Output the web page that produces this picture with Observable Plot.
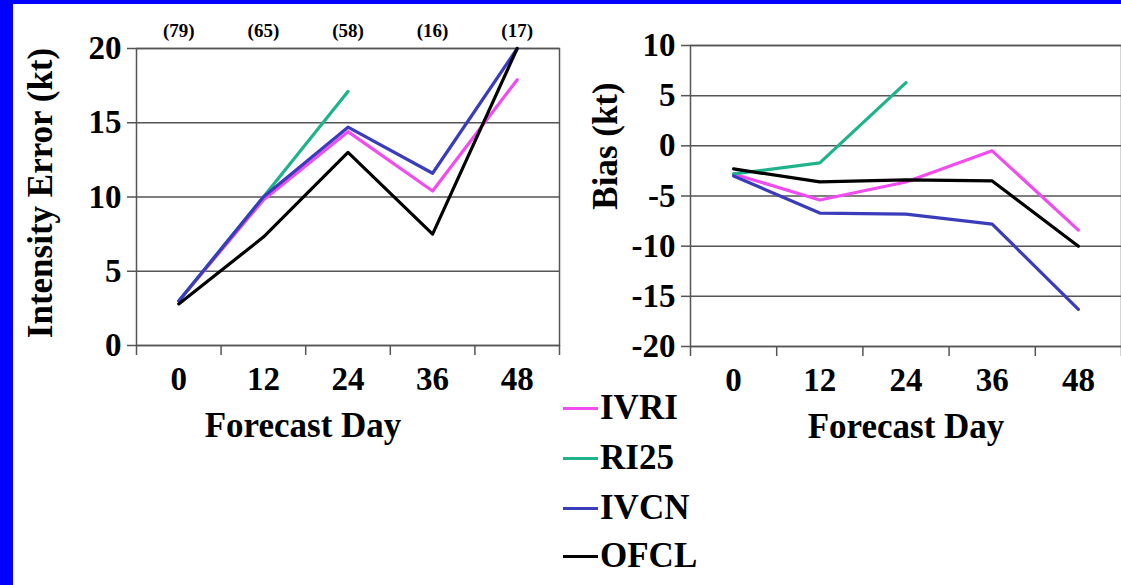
<!DOCTYPE html>
<html><head><meta charset="utf-8">
<script src="https://cdn.jsdelivr.net/npm/d3@7"></script>
<script src="https://cdn.jsdelivr.net/npm/@observablehq/plot@0.6"></script>
<style>
html,body{margin:0;padding:0;background:#fff;}
body{width:1121px;height:585px;position:relative;overflow:hidden;font-family:"Liberation Serif",Tinos,"Times New Roman","DejaVu Serif","Noto Serif",serif;font-weight:bold;}
#blueL{position:absolute;left:0;top:0;width:13px;height:585px;background:#0000ff;z-index:5;}
#blueT{position:absolute;left:0;top:0;width:1121px;height:4px;background:#0000ff;z-index:5;}
#c1{position:absolute;left:0;top:0;}
#c2{position:absolute;left:560px;top:0;}
#legend{position:absolute;left:563px;top:0;}
.item{position:absolute;left:0;height:36px;display:flex;align-items:center;white-space:nowrap;}
.sw{display:inline-block;width:35px;height:3px;margin-right:2px;}
.lab{font-size:35px;line-height:36px;color:#000;}
svg text{font-family:"Liberation Serif",Tinos,"Times New Roman","DejaVu Serif","Noto Serif",serif !important;font-weight:bold;}
</style></head><body>
<div id="blueL"></div><div id="blueT"></div>
<div id="c1"></div><div id="c2"></div><div id="legend"></div>
<script>
const forecastDays = ["0","12","24","36","48"];
const caseCounts = [79, 65, 58, 16, 17];
const seriesNames = ["IVRI","RI25","IVCN","OFCL"];
const seriesColors = ["#f04cf0","#1fb38c","#3a3cbc","#000000"];

const errorIVRI = [3.0, 9.8, 14.4, 10.4, 17.9];
const errorRI25 = [3.0, 10.0, 17.1];
const errorIVCN = [3.0, 10.0, 14.7, 11.6, 20.0];
const errorOFCL = [2.8, 7.3, 13.0, 7.5, 20.0];

const biasIVRI = [-2.8, -5.4, -3.6, -0.5, -8.4];
const biasRI25 = [-2.8, -1.7, 6.3];
const biasIVCN = [-3.0, -6.7, -6.8, -7.8, -16.3];
const biasOFCL = [-2.3, -3.6, -3.4, -3.5, -10.0];

const errorTicks = [0, 5, 10, 15, 20];
const biasTicks = [-20, -15, -10, -5, 0, 5, 10];

function toRows(lists) {
  const rows = [];
  lists.forEach((vals, s) => vals.forEach((v, i) => rows.push({series: seriesNames[s], i, value: v})));
  return rows;
}

const errorRows = toRows([errorIVRI, errorRI25, errorIVCN, errorOFCL]);
const biasRows = toRows([biasIVRI, biasRI25, biasIVCN, biasOFCL]);

const boundaries = d3.range(forecastDays.length + 1).map(k => k - 0.5);
const centers = d3.range(forecastDays.length);
const gridColor = "#555555";
const serifStack = '"Liberation Serif", Tinos, "Times New Roman", "DejaVu Serif", serif';

function makeChart({rows, yDomain, yTicks, width, height, mL, mR, mT, mB, yTitle, yTitleDx, yTitleDy, xTitleDx, counts}) {
  const marks = [
    Plot.gridY(yTicks, {stroke: gridColor, strokeOpacity: 1, strokeWidth: 1.5}),
    Plot.frame({stroke: gridColor, strokeWidth: 1.5}),
    Plot.axisY(yTicks, {tickSize: 9, tickPadding: 6, fontSize: 33, stroke: gridColor, strokeWidth: 1.5, fill: "#000", tickFormat: d => String(d), label: null}),
    Plot.axisX(boundaries, {tickSize: 10, tickFormat: () => "", stroke: gridColor, strokeWidth: 1.5, label: null}),
    Plot.axisX(centers, {tickSize: 0, tickPadding: 21, fontSize: 33, fill: "#000", tickFormat: i => forecastDays[i], label: null}),
    Plot.line(rows, {x: "i", y: "value", z: "series", stroke: "series", strokeWidth: 3.2}),
    Plot.text([yTitle], {frameAnchor: "left", textAnchor: "middle", lineAnchor: "middle", rotate: -90, dx: yTitleDx, dy: yTitleDy, fontSize: 35, fill: "#000"}),
    Plot.text(["Forecast Day"], {frameAnchor: "bottom", textAnchor: "middle", lineAnchor: "middle", dx: xTitleDx, dy: 80, fontSize: 35, fill: "#000"})
  ];
  if (counts) {
    marks.push(Plot.text(counts, {x: (d, i) => i, frameAnchor: "top", lineAnchor: "middle", dy: -18, text: d => `(${d})`, fontSize: 19, fill: "#000"}));
  }
  return Plot.plot({
    width, height,
    marginLeft: mL, marginRight: mR, marginTop: mT, marginBottom: mB,
    x: {domain: [-0.5, forecastDays.length - 0.5]},
    y: {domain: yDomain},
    color: {domain: seriesNames, range: seriesColors},
    style: {fontFamily: serifStack, fontWeight: "bold", background: "transparent", color: "#000", overflow: "visible"},
    marks
  });
}

document.getElementById("c1").appendChild(makeChart({
  rows: errorRows, yDomain: [0, 20], yTicks: errorTicks,
  width: 575, height: 440, mL: 136, mR: 16, mT: 48, mB: 95,
  yTitle: "Intensity Error (kt)", yTitleDx: -96, yTitleDy: -4, xTitleDx: -45, counts: caseCounts
}));

document.getElementById("c2").appendChild(makeChart({
  rows: biasRows, yDomain: [-20, 10], yTicks: biasTicks,
  width: 561, height: 441, mL: 130, mR: 0, mT: 45, mB: 95,
  yTitle: "Bias (kt)", yTitleDx: -85, yTitleDy: -50, xTitleDx: 0, counts: null
}));

const legendCenters = [408, 458, 508, 556];
const legend = document.getElementById("legend");
seriesNames.forEach((name, k) => {
  const item = document.createElement("div");
  item.className = "item";
  item.style.top = (legendCenters[k] - 18) + "px";
  const sw = document.createElement("span");
  sw.className = "sw";
  sw.style.background = seriesColors[k];
  const lab = document.createElement("span");
  lab.className = "lab";
  lab.textContent = name;
  item.appendChild(sw); item.appendChild(lab);
  legend.appendChild(item);
});
</script>
</body></html>
